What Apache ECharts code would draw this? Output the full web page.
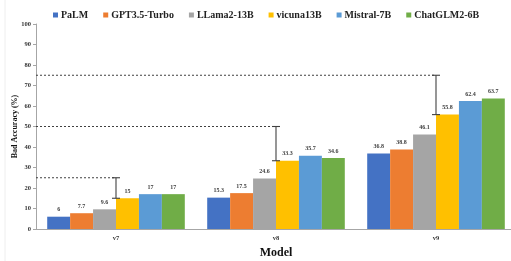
<!DOCTYPE html>
<html>
<head>
<meta charset="utf-8">
<script src="https://cdn.jsdelivr.net/npm/echarts@6/dist/echarts.min.js"></script>
<style>
  html, body { margin: 0; padding: 0; background: #fff; }
  #main { width: 511px; height: 261px; }
</style>
</head>
<body>
<div id="main"></div>
<script>
const categories = ['v7', 'v8', 'v9'];
const modelNames = ['PaLM', 'GPT3.5-Turbo', 'LLama2-13B', 'vicuna13B', 'Mistral-7B', 'ChatGLM2-6B'];
const palm = [6, 15.3, 36.8];
const gpt35 = [7.7, 17.5, 38.8];
const llama = [9.6, 24.6, 46.1];
const vicuna = [15, 33.3, 55.8];
const mistral = [17, 35.7, 62.4];
const chatglm = [17, 34.6, 63.7];
// dashed reference level for each version
const targets = [25, 50, 75];

const colors = ['#4472C4', '#ED7D31', '#A5A5A5', '#FFC000', '#5B9BD5', '#70AD47'];
const allValues = [palm, gpt35, llama, vicuna, mistral, chatglm];
const font = 'Liberation Serif';

const barSeries = allValues.map((vals, i) => ({
  name: modelNames[i],
  type: 'bar',
  data: vals,
  barGap: '0%',
  barCategoryGap: '14%',
  itemStyle: { color: colors[i] },
  label: {
    show: true,
    position: 'top',
    distance: 4,
    fontFamily: font,
    fontWeight: 'bold',
    fontSize: 6,
    color: '#404040'
  }
}));

// dashed line from the y axis + error bar at the category centre
const gapSeries = {
  type: 'custom',
  silent: true,
  z: 5,
  data: categories.map((c, i) => [i, vicuna[i], targets[i]]),
  renderItem: (params, api) => {
    const top = api.coord([api.value(0), api.value(2)]);
    const low = api.coord([api.value(0), api.value(1)]);
    const left = params.coordSys.x;
    const x = top[0];
    const stroke = { stroke: '#404040', lineWidth: 1.1 };
    return {
      type: 'group',
      children: [
        { type: 'line', shape: { x1: left, y1: top[1], x2: x, y2: top[1] },
          style: { stroke: '#404040', lineWidth: 1, lineDash: [2, 2] } },
        { type: 'line', shape: { x1: x, y1: top[1], x2: x, y2: low[1] }, style: stroke },
        { type: 'line', shape: { x1: x - 4, y1: top[1], x2: x + 4, y2: top[1] }, style: stroke },
        { type: 'line', shape: { x1: x - 4, y1: low[1], x2: x + 4, y2: low[1] }, style: stroke }
      ]
    };
  }
};

const chart = echarts.init(document.getElementById('main'));
chart.setOption({
  animation: false,
  backgroundColor: '#fff',
  color: colors,
  legend: {
    data: modelNames,
    left: 48,
    top: 5,
    itemWidth: 5,
    itemHeight: 5,
    itemGap: 15,
    icon: 'rect',
    textStyle: { fontFamily: font, fontWeight: 'bold', fontSize: 10, color: '#222', padding: [0, 0, 0, -2] }
  },
  grid: { left: 36, width: 480, top: 24, bottom: 32, outerBoundsMode: 'none' },
  xAxis: {
    type: 'category',
    data: categories,
    name: 'Model',
    nameLocation: 'middle',
    nameGap: 18,
    nameTextStyle: { fontFamily: font, fontWeight: 'bold', fontSize: 12, color: '#111' },
    axisLine: { lineStyle: { color: '#a6a6a6' } },
    axisTick: { alignWithLabel: true, length: 3, lineStyle: { color: '#a6a6a6' } },
    axisLabel: { fontFamily: font, fontWeight: 'bold', fontSize: 6.5, color: '#333', margin: 6 }
  },
  yAxis: {
    type: 'value',
    min: 0,
    max: 100,
    interval: 10,
    name: 'Bad Accuracy (%)',
    nameLocation: 'middle',
    nameGap: 17,
    nameMoveOverlap: false,
    nameTextStyle: { fontFamily: font, fontWeight: 'bold', fontSize: 8, color: '#111' },
    axisLine: { show: true, lineStyle: { color: '#a6a6a6' } },
    axisTick: { show: true, length: 3, lineStyle: { color: '#a6a6a6' } },
    splitLine: { show: false },
    axisLabel: { fontFamily: font, fontWeight: 'bold', fontSize: 6.5, color: '#333', margin: 5 }
  },
  graphic: [
    { type: 'line', shape: { x1: 5, y1: 0, x2: 5, y2: 261 }, style: { stroke: '#eeeeee', lineWidth: 1 } }
  ],
  series: barSeries.concat([gapSeries])
});
</script>
</body>
</html>
